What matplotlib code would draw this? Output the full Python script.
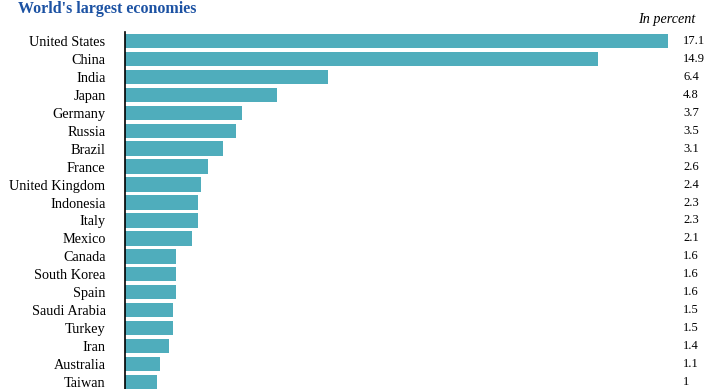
import matplotlib.pyplot as plt
import numpy as np

countries = ["United States", "China", "India", "Japan", "Germany", "Russia",
             "Brazil", "France", "United Kingdom", "Indonesia", "Italy",
             "Mexico", "Canada", "South Korea", "Spain", "Saudi Arabia",
             "Turkey", "Iran", "Australia", "Taiwan"]
shares = [17.1, 14.9, 6.4, 4.8, 3.7, 3.5, 3.1, 2.6, 2.4, 2.3, 2.3, 2.1,
          1.6, 1.6, 1.6, 1.5, 1.5, 1.4, 1.1, 1]
share_labels = ["17.1", "14.9", "6.4", "4.8", "3.7", "3.5", "3.1", "2.6",
                "2.4", "2.3", "2.3", "2.1", "1.6", "1.6", "1.6", "1.5",
                "1.5", "1.4", "1.1", "1"]

plt.rcParams["font.family"] = ["Liberation Serif", "DejaVu Serif"]

W, H = 704, 389
fig = plt.figure(figsize=(W / 100, H / 100), dpi=100)
ax = fig.add_axes([125 / W, 0, (668 - 125) / W, (H - 32) / H])

y = np.arange(len(countries))
ax.barh(y, shares, height=0.8, color="#4fadbc")
ax.set_xlim(0, 17.1)
ax.set_ylim(19.39, -0.5)

for s in ["top", "right", "bottom"]:
    ax.spines[s].set_visible(False)
ax.spines["left"].set_linewidth(1.2)
ax.set_xticks([])
ax.set_yticks(y)
ax.set_yticklabels(countries, fontsize=10.3)
ax.tick_params(axis="y", length=0, pad=14)

# value column sits at a fixed x in the figure, rows follow data y
for yi, lab in zip(y, share_labels):
    ax.annotate(lab, xy=(683 / W, yi), xycoords=("figure fraction", "data"),
                fontsize=9, va="center", ha="left")

fig.text(18 / W, 1 - 9 / H, "World's largest economies", fontsize=11.5,
         fontweight="bold", color="#1c52a3", va="center", ha="left")
fig.text(695 / W, 1 - 20 / H, "In percent", fontsize=10.2, style="italic",
         va="center", ha="right")

fig.savefig("out.png", dpi=100)
